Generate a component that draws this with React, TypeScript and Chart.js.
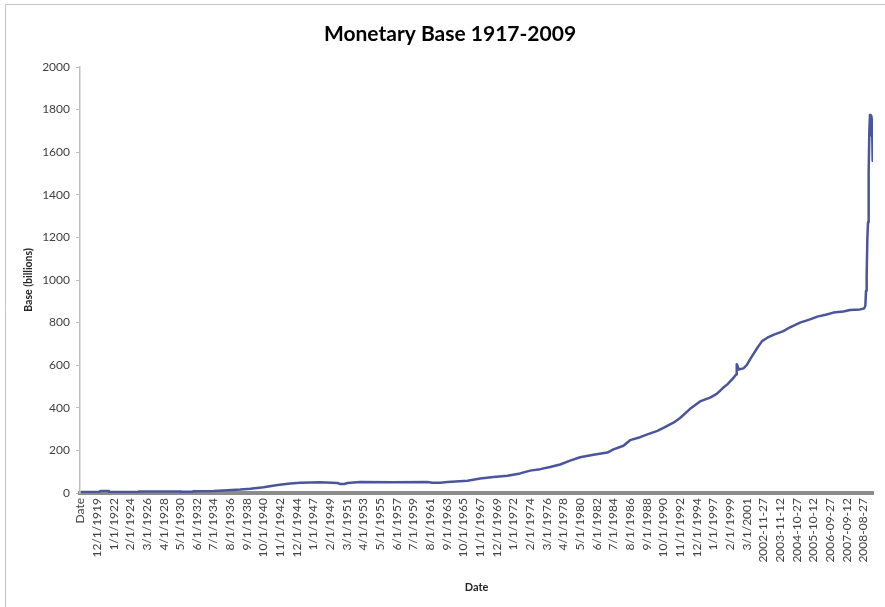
import { useEffect, useRef } from 'react';
import { Chart, registerables } from 'chart.js';

Chart.register(...registerables);

const chartTitle = 'Monetary Base 1917-2009';
const xAxisTitle = 'Date';
const yAxisTitle = 'Base (billions)';

// Category labels shown on the x axis (every 25th category, starting with the header "Date")
const tickDates = [
  'Date', '12/1/1919', '1/1/1922', '2/1/1924', '3/1/1926', '4/1/1928', '5/1/1930', '6/1/1932',
  '7/1/1934', '8/1/1936', '9/1/1938', '10/1/1940', '11/1/1942', '12/1/1944', '1/1/1947', '2/1/1949',
  '3/1/1951', '4/1/1953', '5/1/1955', '6/1/1957', '7/1/1959', '8/1/1961', '9/1/1963', '10/1/1965',
  '11/1/1967', '12/1/1969', '1/1/1972', '2/1/1974', '3/1/1976', '4/1/1978', '5/1/1980', '6/1/1982',
  '7/1/1984', '8/1/1986', '9/1/1988', '10/1/1990', '11/1/1992', '12/1/1994', '1/1/1997', '2/1/1999',
  '3/1/2001', '2002-11-27', '2003-11-12', '2004-10-27', '2005-10-12', '2006-09-27', '2007-09-12',
  '2008-08-27',
];
const categoryCount = 1190;
const labelEvery = 25;

// Category position of each sampled observation
const pointIndex = [
  1, 28, 30, 42, 43, 87, 88, 150, 151, 168, 170, 200, 221, 240, 255, 275, 296, 315, 330, 360,
  386, 390, 396, 401, 420, 470, 521, 528, 540, 551, 581, 600, 620, 641, 660, 675, 690, 705, 720, 735,
  750, 770, 791, 800, 815, 825, 840, 851, 866, 875, 890, 900, 915, 930, 945, 955, 965, 971, 980, 984,
  985, 986, 988, 995, 1000, 1005, 1016, 1023, 1031, 1040, 1055, 1065, 1080, 1095, 1106, 1120, 1130, 1145, 1155, 1170,
  1176, 1178, 1179, 1180, 1181, 1182, 1183, 1184, 1185, 1186, 1187, 1188, 1189,
];
// Monetary base, billions of dollars
const baseBillions = [
  5, 5, 9, 9, 5, 5, 7, 7, 6, 6, 8, 9, 13, 16, 20, 27, 38, 45, 48, 50,
  47, 42, 42, 47, 52, 51, 52, 48, 48, 52, 58, 68, 75, 81, 92, 105, 112, 122, 134, 152,
  168, 180, 190, 205, 222, 248, 262, 275, 292, 306, 330, 352, 395, 430, 448, 465, 495, 510, 540, 556,
  605, 598, 580, 585, 600, 627, 682, 713, 729, 742, 760, 778, 800, 815, 828, 838, 847, 852, 859, 862,
  866, 878, 949, 1019, 1192, 1271, 1506, 1700, 1775, 1680, 1770, 1745, 1560,
];

const yMin = 0;
const yMax = 2000;
const yStep = 200;

const FONT = 'Lato';

const framePlugin = {
  id: 'frameAndTitle',
  beforeDraw(chart: any) {
    const c = chart.ctx;
    c.save();
    c.fillStyle = '#ffffff';
    c.fillRect(0, 0, chart.width, chart.height);
    c.strokeStyle = '#c4c4c4';
    c.lineWidth = 1;
    c.beginPath();
    c.moveTo(5.5, chart.height);
    c.lineTo(5.5, 4.5);
    c.lineTo(chart.width, 4.5);
    c.stroke();
    c.font = `bold 21px ${FONT}`;
    c.fillStyle = '#000000';
    c.textAlign = 'center';
    c.textBaseline = 'middle';
    c.fillText(chartTitle, 450, 34);
    c.restore();
  },
};

export default function App() {
  const ref = useRef<HTMLCanvasElement>(null);
  useEffect(() => {
    document.body.style.margin = '0';
    document.body.style.overflow = 'hidden';
    const chart = new Chart(ref.current as HTMLCanvasElement, {
      type: 'line',
      data: {
        datasets: [
          {
            data: pointIndex.map((x, i) => ({ x, y: baseBillions[i] })),
            borderColor: '#4B559B',
            borderWidth: 2.5,
            borderJoinStyle: 'round',
            pointRadius: 0,
            tension: 0,
            fill: false,
          },
        ],
      },
      options: {
        animation: false,
        responsive: false,
        layout: { padding: { top: 67, right: 12, left: 0, bottom: 0 } },
        plugins: {
          legend: { display: false },
          tooltip: { enabled: false },
          title: { display: false },
        },
        scales: {
          x: {
            type: 'linear',
            min: -0.5,
            max: categoryCount - 0.5,
            afterBuildTicks: (s: any) => {
              s.ticks = tickDates.map((_, k) => ({ value: k * labelEvery }));
            },
            afterFit: (s: any) => {
              s.height = 114;
            },
            grid: { display: true, drawOnChartArea: false, drawTicks: false, color: 'rgba(0,0,0,0)' },
            border: { display: true, color: '#8c8c8c', width: 4 },
            ticks: {
              autoSkip: false,
              minRotation: 90,
              maxRotation: 90,
              padding: 5,
              color: '#404040',
              font: { family: FONT, size: 12 },
              callback: (_v: any, i: number) => tickDates[i],
            },
            title: {
              display: true,
              text: xAxisTitle,
              color: '#262626',
              font: { family: FONT, size: 11, weight: 'bold' },
              padding: { top: 0, bottom: 13 },
            },
          },
          y: {
            min: yMin,
            max: yMax,
            afterFit: (s: any) => {
              s.width = 80;
            },
            grid: { display: true, drawOnChartArea: false, drawTicks: true, tickLength: 4, color: '#bfbfbf' },
            border: { display: true, color: '#bfbfbf', width: 1.5 },
            ticks: {
              stepSize: yStep,
              padding: 6,
              color: '#404040',
              font: { family: FONT, size: 12 },
              callback: (v: any) => String(v),
            },
            title: {
              display: true,
              text: yAxisTitle,
              color: '#262626',
              font: { family: FONT, size: 10.5, weight: 'bold' },
              padding: { top: 22, bottom: 0 },
            },
          },
        },
      },
      plugins: [framePlugin],
    } as any);
    return () => chart.destroy();
  }, []);
  return (
    <div style={{ position: 'absolute', left: 0, top: 0, width: 885, height: 607, background: '#fff' }}>
      <canvas ref={ref} width={885} height={607} style={{ display: 'block' }} />
    </div>
  );
}
